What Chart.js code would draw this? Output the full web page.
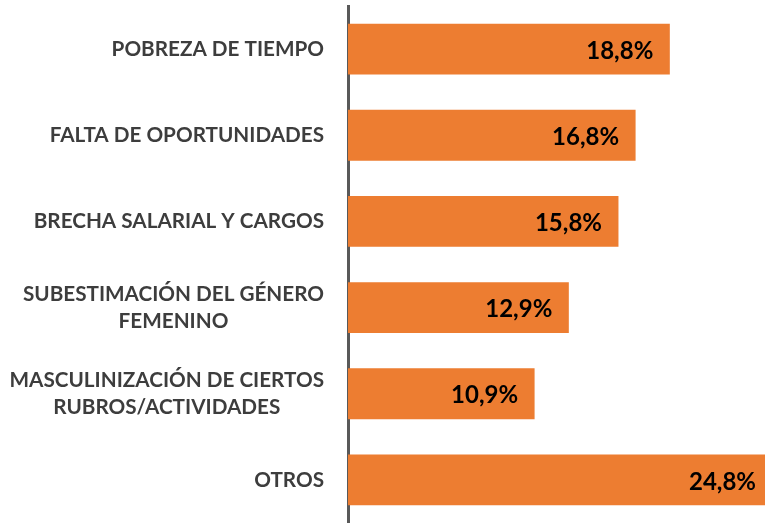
<!DOCTYPE html>
<html>
<head>
<meta charset="utf-8">
<script src="https://cdn.jsdelivr.net/npm/chart.js@4"></script>
<style>
  html, body { margin: 0; padding: 0; background: #fff; }
  #wrap { position: relative; width: 765px; height: 523px; }
</style>
</head>
<body>
<div id="wrap"><canvas id="chart"></canvas></div>
<script>
'use strict';

const categories = [
  ['POBREZA DE TIEMPO'],
  ['FALTA DE OPORTUNIDADES'],
  ['BRECHA SALARIAL Y CARGOS'],
  ['SUBESTIMACIÓN DEL GÉNERO', 'FEMENINO'],
  ['MASCULINIZACIÓN DE CIERTOS', 'RUBROS/ACTIVIDADES'],
  ['OTROS'],
];
const values = [18.8, 16.8, 15.8, 12.9, 10.9, 24.8];
const valueLabels = ['18,8%', '16,8%', '15,8%', '12,9%', '10,9%', '24,8%'];

const LABEL_FONT = 'bold 20.7px Lato, "Noto Sans", sans-serif';
const VALUE_FONT = 'bold 24px Lato, "Noto Sans", sans-serif';

// category labels: right edge fixed, multi-line blocks centred line by line
const categoryLabelPlugin = {
  id: 'categoryLabels',
  afterDraw(chart) {
    const { ctx } = chart;
    const yScale = chart.scales.y;
    const right = yScale.right - 24;
    const lineHeight = 26.7;
    ctx.save();
    ctx.font = LABEL_FONT;
    ctx.fillStyle = '#3d3d3d';
    ctx.textBaseline = 'middle';
    categories.forEach((lines, i) => {
      const cy = yScale.getPixelForValue(i);
      const blockWidth = Math.max(...lines.map(line => ctx.measureText(line).width));
      const cx = right - blockWidth / 2;
      ctx.textAlign = 'center';
      lines.forEach((line, j) => {
        const y = cy + (j - (lines.length - 1) / 2) * lineHeight;
        ctx.fillText(line, cx, y);
      });
    });
    ctx.restore();
  },
};

const valueLabelPlugin = {
  id: 'valueLabels',
  afterDatasetsDraw(chart) {
    const { ctx } = chart;
    const xScale = chart.scales.x;
    const meta = chart.getDatasetMeta(0);
    ctx.save();
    ctx.font = VALUE_FONT;
    ctx.fillStyle = '#000000';
    ctx.textAlign = 'right';
    ctx.textBaseline = 'middle';
    meta.data.forEach((bar, i) => {
      const x = xScale.getPixelForValue(values[i]) - 16.5;
      ctx.fillText(valueLabels[i], x, bar.y + 2);
    });
    ctx.restore();
  },
};

new Chart(document.getElementById('chart').getContext('2d'), {
  type: 'bar',
  data: {
    labels: categories,
    datasets: [{
      data: values,
      backgroundColor: '#ED7D31',
      borderWidth: 0,
      barPercentage: 0.59,
      categoryPercentage: 1,
    }],
  },
  options: {
    indexAxis: 'y',
    responsive: true,
    maintainAspectRatio: false,
    animation: false,
    layout: { padding: { top: 6, right: 0, bottom: 0, left: 0 } },
    plugins: {
      legend: { display: false },
      tooltip: { enabled: false },
    },
    scales: {
      x: {
        display: false,
        min: 0,
        max: 24.36,
      },
      y: {
        afterFit: scale => { scale.width = 348; },
        ticks: { display: false },
        grid: { display: true, drawOnChartArea: false, drawTicks: false },
        border: { display: true, color: '#595959', width: 3 },
      },
    },
  },
  plugins: [categoryLabelPlugin, valueLabelPlugin],
});
</script>
</body>
</html>
